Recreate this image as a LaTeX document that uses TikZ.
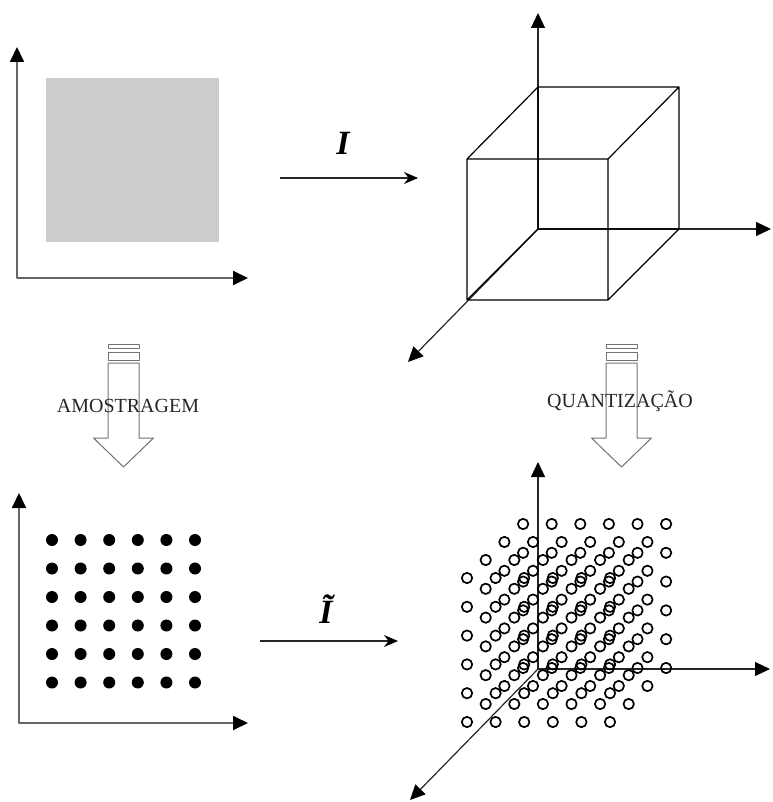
\documentclass[tikz,border=0pt]{standalone}
\usepackage{fontspec}
\setmainfont{Liberation Serif}
\usetikzlibrary{arrows.meta}
\begin{document}
\begin{tikzpicture}[x=0.5pt, y=-0.5pt, font=\fontsize{10}{12}\selectfont, line join=round,
	eixos/.style={draw=black!60, line width=0.9pt, arrows={Triangle[length=7.5pt,width=7pt,color=black]-Triangle[length=7.5pt,width=7pt,color=black]}},
	eixo/.style={draw=black!85, line width=0.6pt, arrows={-Triangle[length=7.5pt,width=7pt,color=black]}},
	cubo/.style={draw=black, line width=0.6pt},
	seta/.style={draw=black!85, line width=0.6pt, arrows={-Stealth[length=7pt,width=6pt,color=black]}},
	bloco/.style={draw=black!55, line width=0.5pt},
	rotulo/.style={anchor=base, text=black!85},
	letra/.style={anchor=base, font=\fontsize{17}{20}\selectfont\bfseries\itshape}]
	\useasboundingbox (0,0) rectangle (772,802);
	\def\s{28.6}
	\path
	(17,278) coordinate (O1) (17,47) coordinate (Y1) (248,278) coordinate (X1)
	(19,723) coordinate (O2) (19,493) coordinate (Y2) (248,723) coordinate (X2)
	(538,229) coordinate (O3) (538,13) coordinate (Z3) (771,229) coordinate (X3) (408,362) coordinate (D3)
	(538,669) coordinate (O4) (538,462) coordinate (Z4) (770,669) coordinate (X4) (410,800) coordinate (D4)
	(538,87) coordinate (A) (679,87) coordinate (B) (679,229) coordinate (C) (538,229) coordinate (D)
	(467,159) coordinate (A') (608,159) coordinate (B') (608,300) coordinate (C') (467,300) coordinate (D')
	(280,178) coordinate (I1) (418,178) coordinate (I2)
	(260,641) coordinate (J1) (398,641) coordinate (J2)
	;
	% imagem continua
	\fill[gray!40] (46,78) rectangle (219,242);
	\draw[eixos] (Y1)--(O1)--(X1);
	\draw[seta] (I1)--(I2);
	\node[letra] (I) at (343,155) {I};
	% cubo de cores
	\draw[eixo] (O3)--(Z3);
	\draw[eixo] (O3)--(X3);
	\draw[eixo] (O3)--(D3);
	\draw[cubo] (A)--(B)--(C)--(D)--cycle (A')--(B')--(C')--(D')--cycle
	(A)--(A') (B)--(B') (C)--(C') (D)--(D');
	% setas de bloco
	\foreach \c in {123.5,621.5}{
		\draw[bloco] (\c-15.5,344) rectangle (\c+15.5,348);
		\draw[bloco] (\c-15.5,352) rectangle (\c+15.5,360);
		\draw[bloco] (\c-15.5,363)--(\c+15.5,363)--(\c+15.5,438)--(\c+30,438)--(\c,467)--(\c-30,438)--(\c-15.5,438)--cycle;
	}
	\node[rotulo] (amostragem) at (128,412) {AMOSTRAGEM};
	\node[rotulo] (quantizacao) at (620,407) {QUANTIZAÇÃO};
	% imagem amostrada
	\draw[eixos] (Y2)--(O2)--(X2);
	\foreach \i in {0,...,5}
	\foreach \j in {0,...,5}
	\fill (52+\s*\i, 540+28.5*\j) circle[radius=6];
	\draw[seta] (J1)--(J2);
	\node[letra] (Itil) at (326,623) {\~{I}};
	% reticulado quantizado
	\draw[eixo] (O4)--(Z4);
	\draw[eixo] (O4)--(X4);
	\draw[eixo] (O4)--(D4);
	\foreach \k in {0,...,3}
	\foreach \i in {0,...,5}
	\foreach \j in {0,...,5}
	\draw[line width=0.85pt] (467+\s*\i+18.7*\k, 578+28.8*\j-18*\k) circle[radius=5.2];
\end{tikzpicture}
\end{document}
